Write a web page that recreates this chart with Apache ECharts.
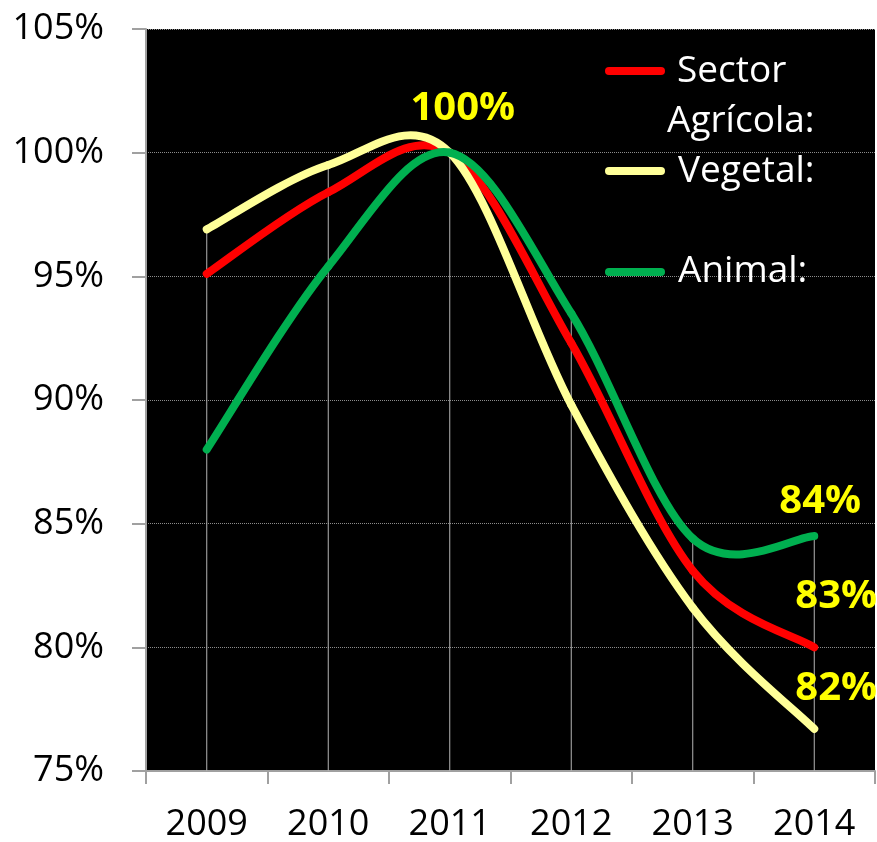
<html>
<head>
<meta http-equiv="Content-Type" content="text/html; charset=utf-8" />
<style type="text/css">
body {margin: 0; background-color: white}
</style>
</head>
<body>
<div id="main" style="width:877px;height:842px;"></div>
</body>

<script src="https://cdn.jsdelivr.net/npm/echarts@6.0.0/dist/echarts.min.js"></script>
<script type="text/javascript">

// data (index, 2011 = 100%)
var years = ['2009', '2010', '2011', '2012', '2013', '2014'];
var sectorAgricola = [95.1, 98.4, 100, 92.3, 83.1, 80.0];
var vegetal = [96.9, 99.5, 100, 89.8, 81.6, 76.7];
var animal = [88.0, 95.4, 100, 93.5, 84.4, 84.5];
var seriesNames = ['Sector Agrícola:', 'Vegetal:', 'Animal:'];
// annotation texts as typed on the chart
var peakLabel = '100%';
var endLabels = ['83%', '82%', '84%'];   // sector, vegetal, animal

var RED = '#ff0000', YELLOW = '#ffff99', GREEN = '#00b050';
var FONT = '"Open Sans", "Liberation Sans", sans-serif';

// drop lines go from the highest point of each year down to the axis
var dropTops = years.map(function (y, i) {
    return Math.max(sectorAgricola[i], vegetal[i], animal[i]);
});

// excel style smoothed line: catmull-rom segments (tension 1/6), one per data item
function smoothRender(color, marks) {
    return function (params, api) {
        var i = params.dataIndexInside;
        var n = params.dataInsideLength;
        function pt(k) {
            k = Math.max(0, Math.min(n - 1, k));
            return api.coord([api.value(0, k), api.value(1, k)]);
        }
        var children = [];
        if (i < n - 1) {
            var p0 = pt(i - 1), p1 = pt(i), p2 = pt(i + 1), p3 = pt(i + 2);
            children.push({
                type: 'bezierCurve',
                shape: {
                    x1: p1[0], y1: p1[1], x2: p2[0], y2: p2[1],
                    cpx1: p1[0] + (p2[0] - p0[0]) / 6, cpy1: p1[1] + (p2[1] - p0[1]) / 6,
                    cpx2: p2[0] - (p3[0] - p1[0]) / 6, cpy2: p2[1] - (p3[1] - p1[1]) / 6
                },
                style: {stroke: color, fill: null, lineWidth: 8, lineCap: 'round'}
            });
        }
        var m = marks[i];
        if (m) {
            var p = pt(i);
            children.push({
                type: 'text',
                z2: 20,
                style: {
                    text: m.text, x: p[0] + m.offset[0], y: p[1] + m.offset[1],
                    fill: '#ffff00', fontFamily: FONT, fontWeight: 'bold', fontSize: 40,
                    align: 'center', verticalAlign: 'middle'
                }
            });
        }
        return {type: 'group', children: children};
    };
}

function lineSeries(name, color, values, marks) {
    return {
        name: name,
        type: 'custom',
        data: values.map(function (v, i) { return [i, v]; }),
        encode: {x: 0, y: 1},
        renderItem: smoothRender(color, marks),
        silent: true,
        z: 3
    };
}

var myChart = echarts.init(document.getElementById('main'));

var option = {
    animation: false,
    grid: {
        left: 146, right: 2, top: 29, bottom: 71,
        show: true, backgroundColor: '#000', borderWidth: 0,
        outerBoundsMode: 'none'
    },
    xAxis: {
        type: 'category',
        data: years,
        boundaryGap: true,
        axisLine: {lineStyle: {color: '#a0a0a0', width: 2}},
        axisTick: {show: true, alignWithLabel: false, length: 13, lineStyle: {color: '#a0a0a0', width: 2}},
        axisLabel: {color: '#000', fontFamily: FONT, fontSize: 36, margin: 36},
        splitLine: {show: false}
    },
    yAxis: {
        type: 'value',
        min: 75, max: 105, interval: 5,
        axisLine: {show: true, lineStyle: {color: '#a0a0a0', width: 2}},
        axisTick: {show: true, length: 14, lineStyle: {color: '#a0a0a0', width: 2}},
        axisLabel: {color: '#000', fontFamily: FONT, fontSize: 36, margin: 42, formatter: '{value}%'},
        splitLine: {show: true, lineStyle: {color: '#8c8c8c', width: 1, type: 'dotted'}}
    },
    series: [
        {
            type: 'bar',
            data: dropTops,
            barWidth: 1,
            itemStyle: {color: '#b4b4b4'},
            silent: true,
            z: 1
        },
        lineSeries(seriesNames[0], RED, sectorAgricola, {5: {text: endLabels[0], offset: [22, -51]}}),
        lineSeries(seriesNames[1], YELLOW, vegetal, {5: {text: endLabels[1], offset: [22, -40]}}),
        lineSeries(seriesNames[2], GREEN, animal, {
            2: {text: peakLabel, offset: [13, -44]},
            5: {text: endLabels[2], offset: [6, -34]}
        })
    ],
    // legend drawn inside the plot, icon level with the first text line
    graphic: [
        {type: 'line', shape: {x1: 609, y1: 71, x2: 661, y2: 71}, style: {stroke: RED, lineWidth: 8, lineCap: 'round'}, z: 10},
        {type: 'line', shape: {x1: 609, y1: 171, x2: 661, y2: 171}, style: {stroke: YELLOW, lineWidth: 8, lineCap: 'round'}, z: 10},
        {type: 'line', shape: {x1: 609, y1: 272, x2: 661, y2: 272}, style: {stroke: GREEN, lineWidth: 8, lineCap: 'round'}, z: 10},
        {type: 'text', x: 677, y: 71, style: {text: seriesNames[0].split(' ')[0], fill: '#fff', fontFamily: FONT, fontSize: 37, verticalAlign: 'middle'}, z: 10},
        {type: 'text', x: 667, y: 121, style: {text: seriesNames[0].split(' ')[1], fill: '#fff', fontFamily: FONT, fontSize: 37, verticalAlign: 'middle'}, z: 10},
        {type: 'text', x: 678, y: 171, style: {text: seriesNames[1], fill: '#fff', fontFamily: FONT, fontSize: 37, verticalAlign: 'middle'}, z: 10},
        {type: 'text', x: 678, y: 271, style: {text: seriesNames[2], fill: '#fff', fontFamily: FONT, fontSize: 37, verticalAlign: 'middle'}, z: 10}
    ]
};

myChart.setOption(option);
</script>
</html>
